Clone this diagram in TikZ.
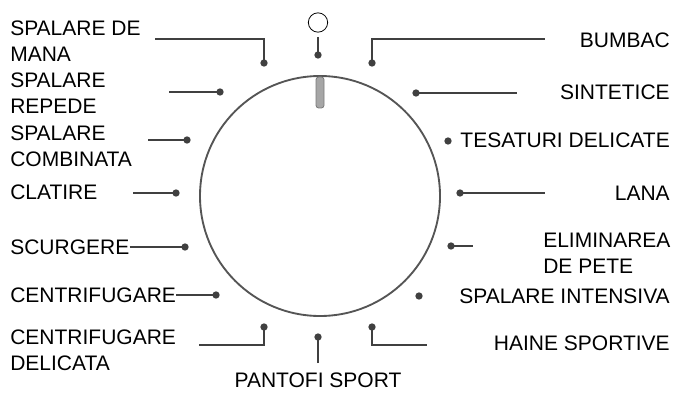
\documentclass[tikz,border=0pt]{standalone}
\usepackage{fontspec}
\setmainfont{Liberation Sans}
\usepackage{tikz}
\definecolor{leadgray}{HTML}{404040}
\definecolor{dialgray}{HTML}{555555}
\definecolor{knobgray}{HTML}{A6A6A6}
\definecolor{knobedge}{HTML}{7A7A7A}
\tikzset{
  lbl/.style={inner sep=0pt, font=\fontsize{15.75}{19.5}\selectfont, text=black},
  pindot/.style={circle, fill=leadgray, inner sep=0pt, minimum size=5.5pt},
  lead/.style={draw=leadgray, line width=1.6pt}
}

\begin{document}
\begin{tikzpicture}[x=0.75pt,y=-0.75pt]
  \useasboundingbox (0,0) rectangle (673,392);

  % Dial and pointer
  \draw[line width=1.4pt, dialgray] (320,196) circle (90pt);
  \draw[fill=knobgray, draw=knobedge, line width=0.6pt, rounded corners=2pt] (316,77) rectangle (324,108);

  % Off position
  \node[circle, draw, line width=0.6pt, minimum size=14.5pt, inner sep=0pt] (off) at (318,22.5) {};
  \coordinate (off-e) at (318,37);
  \node[pindot] (off-d) at (318,55) {};
  \draw[lead] (off-e) -- (off-d.center);

  % Left side labels
  \node[lbl, anchor=north west, align=left] (mana) at (10,21) {SPALARE DE\\MANA};
  \node[lbl, anchor=north west, align=left] (repede) at (10,73) {SPALARE\\REPEDE};
  \node[lbl, anchor=north west, align=left] (combinata) at (10,126) {SPALARE\\COMBINATA};
  \node[lbl, anchor=west] (clatire) at (10,192.5) {CLATIRE};
  \node[lbl, anchor=west] (scurgere) at (10,247) {SCURGERE};
  \node[lbl, anchor=west] (centrif) at (10,295) {CENTRIFUGARE};
  \node[lbl, anchor=north west, align=left] (delicata) at (10,330) {CENTRIFUGARE\\DELICATA};
  \node[lbl, anchor=north] (pantofi) at (318,373) {PANTOFI SPORT};

  % Left side dots
  \node[pindot] (mana-d) at (264,63) {};
  \node[pindot] (repede-d) at (220,92) {};
  \node[pindot] (combinata-d) at (187,140) {};
  \node[pindot] (clatire-d) at (176,193) {};
  \node[pindot] (scurgere-d) at (185,247) {};
  \node[pindot] (centrif-d) at (216,295) {};
  \node[pindot] (delicata-d) at (264,327) {};
  \node[pindot] (pantofi-d) at (318,337) {};

  % Left side leaders
  \coordinate (mana-e) at (155,39);
  \coordinate (repede-e) at (169,92);
  \coordinate (combinata-e) at (148,140);
  \coordinate (clatire-e) at (133,193);
  \coordinate (delicata-e) at (199,345);
  \coordinate (pantofi-e) at (318,363);
  \draw[lead] (mana-e) -| (mana-d.center);
  \draw[lead] (repede-e) -- (repede-d.center);
  \draw[lead] (combinata-e) -- (combinata-d.center);
  \draw[lead] (clatire-e) -- (clatire-d.center);
  \draw[lead] (scurgere.east) -- (scurgere-d.center);
  \draw[lead] (centrif.east) -- (centrif-d.center);
  \draw[lead] (delicata-e) -| (delicata-d.center);
  \draw[lead] (pantofi-e) -- (pantofi-d.center);

  % Right side labels
  \node[lbl, anchor=east] (bumbac) at (670,40) {BUMBAC};
  \node[lbl, anchor=east] (sintetice) at (670,92) {SINTETICE};
  \node[lbl, anchor=east] (tesaturi) at (670,140) {TESATURI DELICATE};
  \node[lbl, anchor=east] (lana) at (670,193) {LANA};
  \node[lbl, anchor=north west, align=left] (pete) at (543,233) {ELIMINAREA\\DE PETE};
  \node[lbl, anchor=east] (intensiva) at (670,296) {SPALARE INTENSIVA};
  \node[lbl, anchor=east] (haine) at (670,343) {HAINE SPORTIVE};

  % Right side dots
  \node[pindot] (bumbac-d) at (372,63) {};
  \node[pindot] (sintetice-d) at (416,93) {};
  \node[pindot] (tesaturi-d) at (448,141) {};
  \node[pindot] (lana-d) at (460,193) {};
  \node[pindot] (pete-d) at (451,246) {};
  \node[pindot] (intensiva-d) at (419,296) {};
  \node[pindot] (haine-d) at (372,327) {};

  % Right side leaders
  \coordinate (bumbac-e) at (545,39);
  \coordinate (sintetice-e) at (517,93);
  \coordinate (lana-e) at (545,193);
  \coordinate (pete-e) at (473,246);
  \coordinate (haine-e) at (427,345);
  \draw[lead] (bumbac-d.center) |- (bumbac-e);
  \draw[lead] (sintetice-d.center) -- (sintetice-e);
  \draw[lead] (lana-d.center) -- (lana-e);
  \draw[lead] (pete-d.center) -- (pete-e);
  \draw[lead] (haine-d.center) |- (haine-e);
\end{tikzpicture}
\end{document}
